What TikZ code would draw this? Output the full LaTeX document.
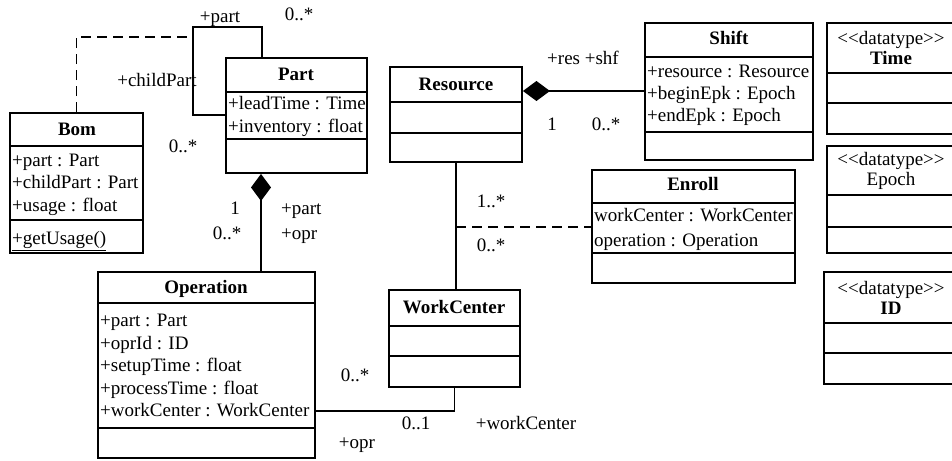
\documentclass[tikz,border=0pt]{standalone}
\usepackage{fontspec}
\setmainfont{Liberation Serif}
\usetikzlibrary{fit,arrows.meta}

\tikzset{
  umlbox/.style={draw, line width=1.9pt, inner sep=0pt},
  compart/.style={line width=1.7pt},
  assoc/.style={line width=1.5pt},
  dep/.style={line width=1.5pt, dash pattern=on 10pt off 6pt},
  owns/.style={assoc, {Diamond[length=27pt,width=20pt]}-},
  ctitle/.style={font=\fontsize{19}{20}\selectfont\bfseries, inner sep=0pt, text height=13pt, text depth=4pt},
  attr/.style={anchor=west, inner sep=0pt, text height=13pt, text depth=4pt},
  lbl/.style={inner sep=0pt, text height=13pt, text depth=4pt},
  dtype/.style={inner sep=0pt, align=center, font=\fontsize{19}{20.5}\selectfont},
}

% class box: name, x1, y1, x2, y2, first and second compartment line
\newcommand\classbox[7]{%
  \node[umlbox, fit={(#2,#3) (#4,#5)}] (#1) {};
  \draw[compart] (#2,#6) -- (#4,#6);
  \draw[compart] (#2,#7) -- (#4,#7);
}

\begin{document}
\begin{tikzpicture}[x=1pt, y=-1pt, font=\fontsize{19}{20}\selectfont]
\useasboundingbox (0,0) rectangle (952,460);

% ---------- classes ----------
\classbox{bom}{10}{113}{143}{253}{146}{220}
\node[ctitle] (bomT) at (77,131) {Bom};
\node[attr] (bomA1) at (12,162) {+part : Part};
\node[attr] (bomA2) at (12,184) {+childPart : Part};
\node[attr] (bomA3) at (12,207) {+usage : float};
\node[attr] (bomM1) at (12,240) {\underline{+getUsage()}};

\classbox{part}{226}{58}{367}{173}{92}{139}
\node[ctitle] (partT) at (296,76) {Part};
\node[attr] (partA1) at (228,105) {+leadTime : Time};
\node[attr] (partA2) at (228,128) {+inventory : float};

\classbox{op}{98}{272}{315}{458}{303}{428}
\node[ctitle] (opT) at (206,289) {Operation};
\node[attr] (opA1) at (100,322) {+part : Part};
\node[attr] (opA2) at (100,345) {+oprId : ID};
\node[attr] (opA3) at (100,367) {+setupTime : float};
\node[attr] (opA4) at (100,390) {+processTime : float};
\node[attr] (opA5) at (100,412) {+workCenter : WorkCenter};

\classbox{res}{390}{67}{522}{162}{102}{133}
\node[ctitle] (resT) at (456,86) {Resource};

\classbox{wc}{389}{290}{520}{387}{326}{356}
\node[ctitle] (wcT) at (454,309) {WorkCenter};

\classbox{shift}{645}{23}{813}{160}{57}{132}
\node[ctitle] (shiftT) at (729,40) {Shift};
\node[attr] (shiftA1) at (647,73) {+resource : Resource};
\node[attr] (shiftA2) at (647,95) {+beginEpk : Epoch};
\node[attr] (shiftA3) at (647,117) {+endEpk : Epoch};

\classbox{enroll}{592}{170}{795}{283}{203}{253}
\node[ctitle] (enrollT) at (693,186) {Enroll};
\node[attr] (enrollA1) at (594,217) {workCenter : WorkCenter};
\node[attr] (enrollA2) at (594,242) {operation : Operation};

\classbox{time}{827}{23}{956}{134}{73}{103}
\node[dtype] (timeT) at (891,48) {<\kern0pt<datatype>\kern0pt>\\\textbf{Time}};

\classbox{epoch}{827}{146}{956}{253}{195}{227}
\node[dtype] (epochT) at (891,171) {<\kern0pt<datatype>\kern0pt>\\Epoch};

\classbox{id}{824}{272}{956}{384}{323}{353}
\node[dtype] (idT) at (891,298) {<\kern0pt<datatype>\kern0pt>\\\textbf{ID}};

% ---------- connectors ----------
% Part self association (Bom is its association class)
\coordinate (loopTR) at (262,27);
\coordinate (loopBL) at (193,115);
\coordinate (loopMid) at (193,37);
\draw[assoc] (part.north -| loopTR) -- (loopTR) -| (loopBL) -- (part.west |- loopBL);
\draw[dep] (bom.north) |- (loopMid);
\node[lbl] (lp1) at (220,18) {+part};
\node[lbl] (lp2) at (299,16) {0..*};
\node[lbl] (lp3) at (157,82) {+childPart};
\node[lbl] (lp4) at (183,148) {0..*};

% Part owns Operation
\draw[owns] (part.south -| 261,0) -- (op.north -| 261,0);
\node[lbl] (lo1) at (235,210) {1};
\node[lbl] (lo2) at (227,235) {0..*};
\node[lbl, anchor=west] (lo3) at (281,210) {+part};
\node[lbl, anchor=west] (lo4) at (281,235) {+opr};

% Resource owns Shift
\draw[owns] (res.east |- 0,91) -- (shift.west |- 0,91);
\node[lbl, anchor=west] (ls1) at (547,60) {+res +shf};
\node[lbl] (ls2) at (552,126) {1};
\node[lbl] (ls3) at (606,126) {0..*};

% Resource -- WorkCenter, with association class Enroll
\coordinate (enrollLink) at (456,227);
\draw[assoc] (res.south) -- (res.south |- wc.north);
\draw[dep] (enrollLink) -- (enroll.west |- enrollLink);
\node[lbl] (lr1) at (491,203) {1..*};
\node[lbl] (lr2) at (491,247) {0..*};

% Operation -- WorkCenter
\draw[assoc] (op.east |- 0,411) -| (wc.south);
\node[lbl] (lw1) at (355,377) {0..*};
\node[lbl] (lw2) at (416,425) {0..1};
\node[lbl] (lw3) at (526,425) {+workCenter};
\node[lbl] (lw4) at (357,444) {+opr};
\end{tikzpicture}
\end{document}
